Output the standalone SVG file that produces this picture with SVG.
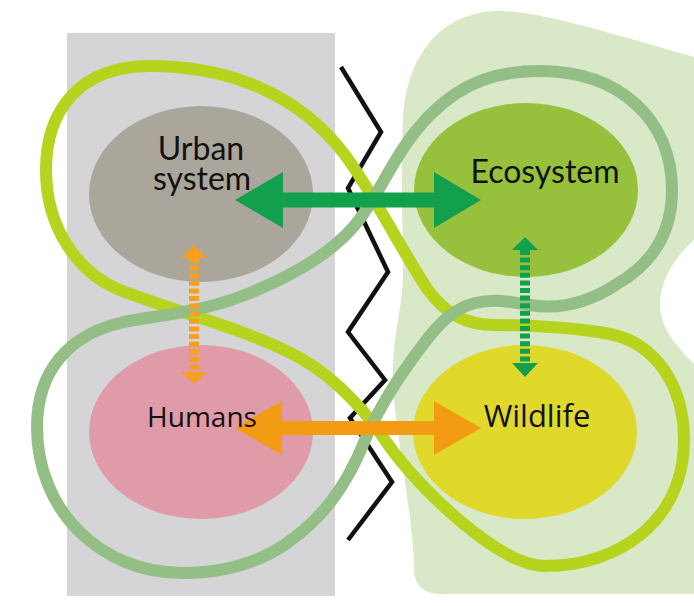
<svg xmlns="http://www.w3.org/2000/svg" width="694" height="606" viewBox="0 0 694 606">
<style>
.lbl{font-family:Lato,"Open Sans","Liberation Sans",sans-serif;font-size:32px;fill:#111;text-anchor:middle}
.lbl2{font-family:"Open Sans","Liberation Sans",sans-serif;font-size:28px;fill:#111;text-anchor:middle}
.loop{fill:none;stroke-width:12;stroke-linejoin:round}
.dash{stroke-width:10;stroke-dasharray:5 2.6;fill:none}
</style>
<rect width="694" height="606" fill="#ffffff"/>
<g id="urban-area">
<rect x="67" y="33" width="268" height="563" fill="#d5d5d7"/>
</g>
<g id="natural-area">
<path d="M494,11 C530,10 580,24 694,57 L700,58 L700,235 C675,255 660,280 660,305 C660,330 680,350 700,370 L700,594 L440,594 C425,594 414,585 414,570 C414,520 395,430 393,385 C391,340 403,310 403,270 C403,220 400,170 403,120 C405,70 430,15 494,11 Z" fill="#d9e8c6"/>
</g>
<g id="barrier">
<polyline points="341,67 381,132 348,188 388,272 348,332 385,380 350,418 392,482 348,540" fill="none" stroke="#111" stroke-width="4.5" stroke-linejoin="miter"/>
</g>
<g id="urban-system">
<ellipse cx="201" cy="194" rx="112" ry="88" fill="#aaa69b"/>
</g>
<g id="humans">
<ellipse cx="201" cy="432" rx="112" ry="87" fill="#e09ba8"/>
</g>
<g id="ecosystem">
<ellipse cx="526" cy="190" rx="112" ry="87" fill="#97c13c"/>
</g>
<g id="wildlife">
<ellipse cx="525" cy="432" rx="112" ry="87" fill="#e0d92b"/>
</g>
<g id="connectors">
<path class="loop" stroke="#b6d31d" d="M150,66 C230,66 300,95 345,155 C372,191 400,248 428,290 C445,313 465,325 495,325 C530,325 580,328 610,334 C655,343 684,385 684,440 C684,520 620,566 545,566 C500,566 420,490 387,443 C372,420 340,380 300,358 C250,330 170,310 120,290 C80,274 46,230 46,170 C46,110 80,66 150,66 Z"/>
<path class="loop" stroke="#93be85" d="M540,71 C620,71 672,120 672,190 C672,235 650,265 617,284 C590,302 560,310 530,305 C510,302 495,298 475,303 C455,308 440,322 425,342 C405,368 382,400 365,440 C345,490 320,520 287,543 C260,562 225,573 183,573 C100,573 37,510 37,427 C37,370 70,335 120,323 C150,316 200,313 245,295 C290,277 330,255 355,225 C380,195 395,150 430,115 C465,80 500,71 540,71 Z"/>
<polygon fill="#12a04c" points="235,200 283,172 283,192.5 434,192.5 434,172 481,200 434,228 434,207.5 283,207.5 283,228"/>
<polygon fill="#f39b12" points="235,428 282,401 282,421 434,421 434,401 481,428 434,455 434,435 282,435 282,455"/>
<line class="dash" stroke="#f5a020" x1="194" y1="258" x2="194" y2="372"/>
<polygon fill="#f5a020" points="194,245 207,258 181,258"/>
<polygon fill="#f5a020" points="194,384 207,372 181,372"/>
<line class="dash" stroke="#12a04c" x1="525" y1="250" x2="525" y2="363"/>
<polygon fill="#12a04c" points="525,237 538,250 512,250"/>
<polygon fill="#12a04c" points="525,377 538,363 512,363"/>
</g>
<g id="labels">
<text class="lbl"><tspan x="201" y="160">Urban</tspan><tspan x="202" y="190">system</tspan></text>
<text class="lbl" x="545" y="183">Ecosystem</text>
<text class="lbl2" x="202" y="427">Humans</text>
<text class="lbl2" x="537" y="427" style="font-size:31px">Wildlife</text>
</g>
</svg>
